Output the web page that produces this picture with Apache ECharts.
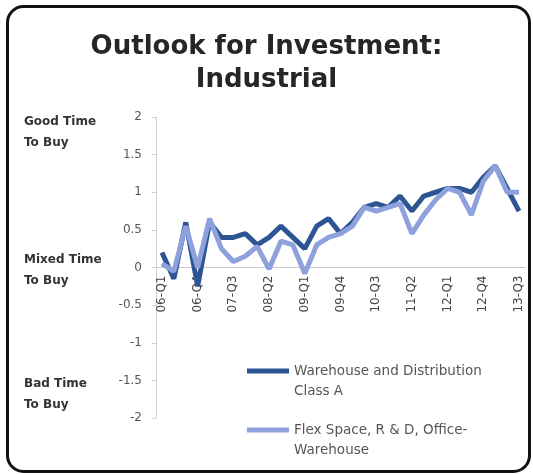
<!DOCTYPE html>
<html>
<head>
<meta charset="utf-8">
<script src="https://cdn.jsdelivr.net/npm/echarts@6/dist/echarts.min.js"></script>
<style>
  html, body { margin: 0; padding: 0; background: #fff; }
  #chart { width: 533px; height: 475px; }
</style>
</head>
<body>
<div id="chart"></div>
<script>
// Quarterly survey periods, 2006 Q1 through 2013 Q3
const quarters = [
  '06-Q1','06-Q2','06-Q3','06-Q4',
  '07-Q1','07-Q2','07-Q3','07-Q4',
  '08-Q1','08-Q2','08-Q3','08-Q4',
  '09-Q1','09-Q2','09-Q3','09-Q4',
  '10-Q1','10-Q2','10-Q3','10-Q4',
  '11-Q1','11-Q2','11-Q3','11-Q4',
  '12-Q1','12-Q2','12-Q3','12-Q4',
  '13-Q1','13-Q2','13-Q3'
];

// Outlook scores (2 = good time to buy, 0 = mixed, -2 = bad time)
const warehouseClassA = [
  0.20, -0.15, 0.60, -0.25,
  0.60, 0.40, 0.40, 0.45,
  0.30, 0.40, 0.55, 0.40,
  0.25, 0.55, 0.65, 0.45,
  0.60, 0.80, 0.85, 0.80,
  0.95, 0.75, 0.95, 1.00,
  1.05, 1.05, 1.00, 1.20,
  1.35, 1.05, 0.75
];
const flexSpaceRD = [
  0.05, -0.05, 0.55, 0.00,
  0.65, 0.25, 0.08, 0.15,
  0.28, -0.02, 0.35, 0.30,
  -0.08, 0.30, 0.40, 0.45,
  0.55, 0.80, 0.75, 0.80,
  0.85, 0.45, 0.70, 0.90,
  1.05, 1.00, 0.70, 1.15,
  1.35, 1.00, 1.00
];

const seriesNames = [
  'Warehouse and Distribution Class A',
  'Flex Space, R & D, Office-Warehouse'
];
// legend text: a blank first line keeps the first real line level with the swatch
const legendLines = {
  'Warehouse and Distribution Class A': ' \nWarehouse and Distribution\nClass A',
  'Flex Space, R & D, Office-Warehouse': ' \nFlex Space, R & D, Office-\nWarehouse'
};
const seriesColors = ['#2d5593', '#8fa1dc'];

const sideNotes = [
  { text: 'Good Time\nTo Buy', top: 111 },
  { text: 'Mixed Time\nTo Buy', top: 249 },
  { text: 'Bad Time\nTo Buy', top: 373 }
];

// plot area in pixels; the category axis is shifted up so it sits on y = 0
const gridTop = 117;
const gridBottom = 57;
const yMin = -2;
const yMax = 2;
const plotHeight = 475 - gridTop - gridBottom;
const zeroShift = -plotHeight * (0 - yMin) / (yMax - yMin);

const chart = echarts.init(document.getElementById('chart'));

const noteStyle = {
  fill: '#333',
  font: 'bold 12px "DejaVu Sans", sans-serif',
  lineHeight: 21
};

function legendFor(name, top) {
  return {
    orient: 'vertical',
    left: 247,
    top: top,
    padding: 0,
    itemWidth: 42,
    itemHeight: 5,
    itemGap: 4,
    icon: 'rect',
    data: [name],
    formatter: n => legendLines[n],
    textStyle: {
      fontFamily: '"DejaVu Sans", sans-serif',
      fontSize: 13.5,
      color: '#555',
      lineHeight: 20
    }
  };
}

chart.setOption({
  backgroundColor: '#fff',
  animation: false,
  title: {
    text: 'Outlook for Investment:\nIndustrial',
    left: 'center',
    top: 26,
    textStyle: {
      fontFamily: '"DejaVu Sans", sans-serif',
      fontWeight: 'bold',
      fontSize: 26,
      lineHeight: 33,
      color: '#262626'
    }
  },
  grid: { left: 156, right: 8, top: gridTop, bottom: gridBottom },
  legend: [
    legendFor(seriesNames[0], 341),
    legendFor(seriesNames[1], 400)
  ],
  xAxis: {
    type: 'category',
    data: quarters,
    boundaryGap: true,
    position: 'bottom',
    offset: zeroShift,
    axisLine: { onZero: false, lineStyle: { color: '#c8c8c8', width: 1 } },
    axisTick: { show: false },
    axisLabel: {
      interval: 2,
      rotate: 90,
      margin: 8,
      fontFamily: '"DejaVu Sans", sans-serif',
      fontSize: 12,
      color: '#444'
    },
    splitLine: { show: false }
  },
  yAxis: {
    type: 'value',
    min: yMin,
    max: yMax,
    interval: 0.5,
    axisLine: { show: true, lineStyle: { color: '#d0d0d0' } },
    axisTick: { show: true, length: 4, lineStyle: { color: '#d0d0d0' } },
    axisLabel: {
      margin: 14,
      fontFamily: '"DejaVu Sans", sans-serif',
      fontSize: 12,
      color: '#555'
    },
    splitLine: { show: false }
  },
  series: [
    {
      name: seriesNames[0],
      type: 'line',
      data: warehouseClassA,
      symbol: 'none',
      lineStyle: { color: seriesColors[0], width: 5 },
      itemStyle: { color: seriesColors[0] },
      z: 2
    },
    {
      name: seriesNames[1],
      type: 'line',
      data: flexSpaceRD,
      symbol: 'none',
      lineStyle: { color: seriesColors[1], width: 5 },
      itemStyle: { color: seriesColors[1] },
      z: 3
    }
  ],
  graphic: [
    {
      type: 'rect',
      left: 5,
      top: 4,
      shape: { width: 522, height: 465, r: 16 },
      style: { fill: 'none', stroke: '#111', lineWidth: 3 },
      z: 100
    }
  ].concat(sideNotes.map(n => ({
    type: 'text',
    left: 24,
    top: n.top,
    style: Object.assign({ text: n.text }, noteStyle),
    z: 50
  })))
});
</script>
</body>
</html>
